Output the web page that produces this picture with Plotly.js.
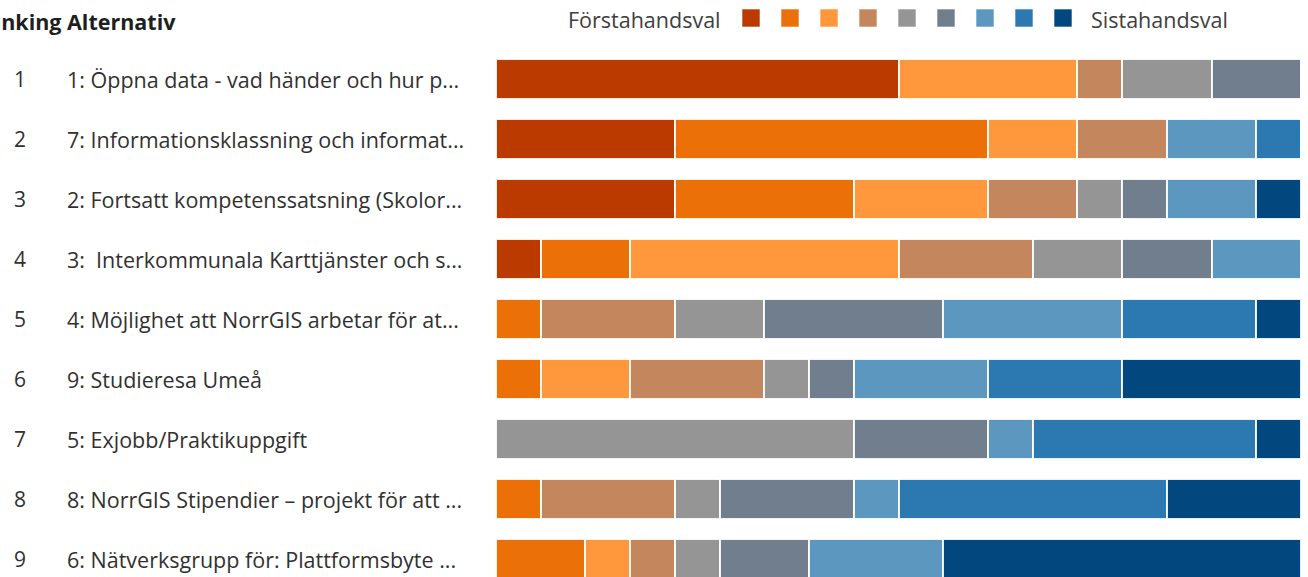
<!DOCTYPE html>
<html>
<head>
<meta charset="utf-8">
<script src="https://cdn.plot.ly/plotly-3.0.1.min.js"></script>
<style>html,body{margin:0;padding:0;background:#fff;}#chart{width:1308px;height:577px;}</style>
</head>
<body>
<div id="chart"></div>
<script>
// Ranks (row order) and alternatives
const ranks = ["1", "2", "3", "4", "5", "6", "7", "8", "9"];
const alternatives = [
  "1: Öppna data - vad händer och hur p...",
  "7: Informationsklassning och informat...",
  "2: Fortsatt kompetenssatsning (Skolor...",
  "3: \u00a0Interkommunala Karttjänster och s...",
  "4: Möjlighet att NorrGIS arbetar för at...",
  "9: Studieresa Umeå",
  "5: Exjobb/Praktikuppgift",
  "8: NorrGIS Stipendier – projekt för att ...",
  "6: Nätverksgrupp för: Plattformsbyte ..."
];
// Number of respondents placing each alternative at position 1..9 (18 respondents)
const pos1 = [9, 4, 4, 1, 0, 0, 0, 0, 0];
const pos2 = [0, 7, 4, 2, 1, 1, 0, 1, 2];
const pos3 = [4, 2, 3, 6, 0, 2, 0, 0, 1];
const pos4 = [1, 2, 2, 3, 3, 3, 0, 3, 1];
const pos5 = [2, 0, 1, 2, 2, 1, 8, 1, 1];
const pos6 = [2, 0, 1, 2, 4, 1, 3, 3, 2];
const pos7 = [0, 2, 2, 2, 4, 3, 1, 1, 3];
const pos8 = [0, 1, 0, 0, 3, 3, 5, 6, 0];
const pos9 = [0, 0, 1, 0, 1, 4, 1, 3, 8];
const positions = [pos1, pos2, pos3, pos4, pos5, pos6, pos7, pos8, pos9];
const positionNames = ["1", "2", "3", "4", "5", "6", "7", "8", "9"];
const colors = ["#BB3A00", "#EB7008", "#FF983D", "#C4875D", "#959595", "#717E8E", "#5C97C0", "#2C78B0", "#02487F"];
const legendLeft = "Förstahandsval";
const legendRight = "Sistahandsval";
const headerRank = "Ranking";
const headerAlt = "Alternativ";

const FONT = "Open Sans, Noto Sans, sans-serif";
const rowIdx = ranks.map((_, i) => i);

const traces = positions.map((vals, k) => ({
  type: "bar",
  orientation: "h",
  name: positionNames[k],
  x: vals,
  y: rowIdx,
  marker: { color: colors[k], line: { color: "rgba(255,255,255,0.9)", width: 2 } },
  hoverinfo: "x+name"
}));

const annotations = [];
ranks.forEach((r, i) => {
  annotations.push({ xref: "paper", yref: "y", x: 0, y: i, xshift: -484, xanchor: "left", yanchor: "middle",
    text: r, showarrow: false, font: { family: FONT, size: 21, color: "#323130" } });
  annotations.push({ xref: "paper", yref: "y", x: 0, y: i, xshift: -431, xanchor: "left", yanchor: "middle",
    text: alternatives[i], showarrow: false, font: { family: FONT, size: 21.5, color: "#323130" } });
});
annotations.push({ xref: "paper", yref: "paper", x: 0, y: 1, xshift: -433, yshift: 28, xanchor: "right", yanchor: "middle",
  text: "<b>" + headerRank + "</b>", showarrow: false, font: { family: FONT, size: 21.5, color: "#201f1e" } });
annotations.push({ xref: "paper", yref: "paper", x: 0, y: 1, xshift: -431, yshift: 28, xanchor: "left", yanchor: "middle",
  text: "<b>" + headerAlt + "</b>", showarrow: false, font: { family: FONT, size: 21.5, color: "#201f1e" } });
annotations.push({ xref: "paper", yref: "paper", x: 0, y: 1, xshift: 227, yshift: 30, xanchor: "right", yanchor: "middle",
  text: legendLeft, showarrow: false, font: { family: FONT, size: 21.5, color: "#404040" } });
annotations.push({ xref: "paper", yref: "paper", x: 0, y: 1, xshift: 593, yshift: 30, xanchor: "left", yanchor: "middle",
  text: legendRight, showarrow: false, font: { family: FONT, size: 21.5, color: "#404040" } });

// legend swatches
const shapes = colors.map((c, k) => ({
  type: "rect", xref: "paper", yref: "paper", xsizemode: "pixel", ysizemode: "pixel",
  xanchor: 0, yanchor: 1, x0: 246 + 39 * k, x1: 264 + 39 * k, y0: 22, y1: 40,
  fillcolor: c, line: { color: "rgba(255,255,255,0.6)", width: 1 }
}));

const layout = {
  width: 1308, height: 577,
  margin: { l: 496, r: 7, t: 49, b: 0, pad: 0 },
  barmode: "stack",
  bargap: 0.335,
  showlegend: false,
  paper_bgcolor: "#ffffff",
  plot_bgcolor: "#ffffff",
  xaxis: { range: [0, 18], visible: false, fixedrange: true },
  yaxis: { range: [8.3, -0.5], visible: false, fixedrange: true },
  annotations: annotations,
  shapes: shapes,
  font: { family: FONT }
};

Plotly.newPlot("chart", traces, layout, { displayModeBar: false, staticPlot: true });
</script>
</body>
</html>
